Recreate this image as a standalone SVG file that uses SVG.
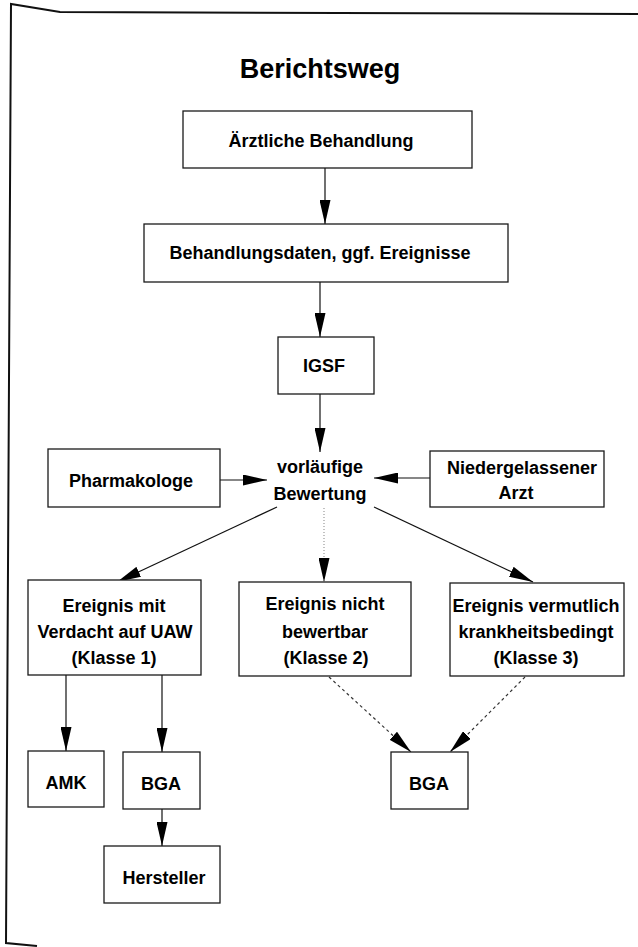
<svg xmlns="http://www.w3.org/2000/svg" width="638" height="947" viewBox="0 0 638 947">
<style>
  .box { fill: #fff; stroke: #1a1a1a; stroke-width: 1.3; }
  .t { font-family: "Liberation Sans", Arial, sans-serif; font-weight: bold; font-size: 18px; fill: #000; text-anchor: middle; }
  .title { font-size: 27px; }
  .ln { fill: none; stroke: #111; stroke-width: 1.2; }
  .dot { fill: none; stroke: #999; stroke-width: 1.2; stroke-dasharray: 1 2; }
  .dash { fill: none; stroke: #333; stroke-width: 1.2; stroke-dasharray: 3 3; }
  .frame { fill: none; stroke: #111; stroke-width: 2; }
</style>
<defs>
  <marker id="ah" markerUnits="userSpaceOnUse" markerWidth="24" markerHeight="11" viewBox="0 0 24 11" refX="24" refY="5.5" orient="auto">
    <path d="M0,0 L24,5.5 L0,11 z" fill="#000"/>
  </marker>
</defs>
<rect width="638" height="947" fill="#fff"/>
<path class="frame" d="M37,946 L6,943 L11,4 L60,12 L638,14"/>
<text class="t title" x="320" y="78">Berichtsweg</text>

<g id="connectors">
  <line class="ln" x1="325" y1="168" x2="325" y2="224" marker-end="url(#ah)"/>
  <line class="ln" x1="320" y1="282" x2="320" y2="337" marker-end="url(#ah)"/>
  <line class="ln" x1="320" y1="394" x2="320" y2="452" marker-end="url(#ah)"/>
  <line class="ln" x1="220" y1="480" x2="267" y2="480" marker-end="url(#ah)"/>
  <line class="ln" x1="430" y1="478" x2="374" y2="478" marker-end="url(#ah)"/>
  <line class="ln" x1="277" y1="507" x2="117" y2="582" marker-end="url(#ah)"/>
  <line class="dot" x1="324" y1="508" x2="324" y2="582" marker-end="url(#ah)"/>
  <line class="ln" x1="374" y1="507" x2="533" y2="582" marker-end="url(#ah)"/>
  <line class="ln" x1="66" y1="675" x2="66" y2="751" marker-end="url(#ah)"/>
  <line class="ln" x1="162" y1="675" x2="162" y2="752" marker-end="url(#ah)"/>
  <line class="ln" x1="162" y1="809" x2="162" y2="846" marker-end="url(#ah)"/>
  <line class="dash" x1="329" y1="677" x2="411" y2="752" marker-end="url(#ah)"/>
  <line class="dash" x1="525" y1="677" x2="450" y2="752" marker-end="url(#ah)"/>
</g>

<g id="n-aerztliche">
  <rect class="box" x="183" y="111" width="289" height="57"/>
  <text class="t" x="321" y="147">Ärztliche Behandlung</text>
</g>
<g id="n-behandlungsdaten">
  <rect class="box" x="144" y="224" width="364" height="58"/>
  <text class="t" x="320" y="259">Behandlungsdaten, ggf. Ereignisse</text>
</g>
<g id="n-igsf">
  <rect class="box" x="278" y="337" width="96" height="57"/>
  <text class="t" x="324" y="372">IGSF</text>
</g>
<g id="n-bewertung">
  <text class="t" x="320" y="473">vorläufige</text>
  <text class="t" x="320" y="500">Bewertung</text>
</g>
<g id="n-pharmakologe">
  <rect class="box" x="48" y="449" width="172" height="58"/>
  <text class="t" x="131" y="487">Pharmakologe</text>
</g>
<g id="n-arzt">
  <rect class="box" x="430" y="451" width="174" height="56"/>
  <text class="t" x="522" y="474">Niedergelassener</text>
  <text class="t" x="516" y="499">Arzt</text>
</g>
<g id="n-klasse1">
  <rect class="box" x="28" y="580" width="173" height="95"/>
  <text class="t" x="114" y="612">Ereignis mit</text>
  <text class="t" x="115" y="638">Verdacht auf UAW</text>
  <text class="t" x="114" y="664">(Klasse 1)</text>
</g>
<g id="n-klasse2">
  <rect class="box" x="239" y="582" width="172" height="94"/>
  <text class="t" x="325" y="610">Ereignis nicht</text>
  <text class="t" x="325" y="638">bewertbar</text>
  <text class="t" x="326" y="664">(Klasse 2)</text>
</g>
<g id="n-klasse3">
  <rect class="box" x="450" y="583" width="174" height="93"/>
  <text class="t" x="536" y="612">Ereignis vermutlich</text>
  <text class="t" x="536" y="638">krankheitsbedingt</text>
  <text class="t" x="536" y="664">(Klasse 3)</text>
</g>
<g id="n-amk">
  <rect class="box" x="28" y="751" width="76" height="56"/>
  <text class="t" x="66" y="789">AMK</text>
</g>
<g id="n-bga1">
  <rect class="box" x="123" y="752" width="77" height="57"/>
  <text class="t" x="161" y="790">BGA</text>
</g>
<g id="n-hersteller">
  <rect class="box" x="104" y="846" width="116" height="57"/>
  <text class="t" x="164" y="884">Hersteller</text>
</g>
<g id="n-bga2">
  <rect class="box" x="391" y="752" width="77" height="57"/>
  <text class="t" x="429" y="790">BGA</text>
</g>
</svg>
